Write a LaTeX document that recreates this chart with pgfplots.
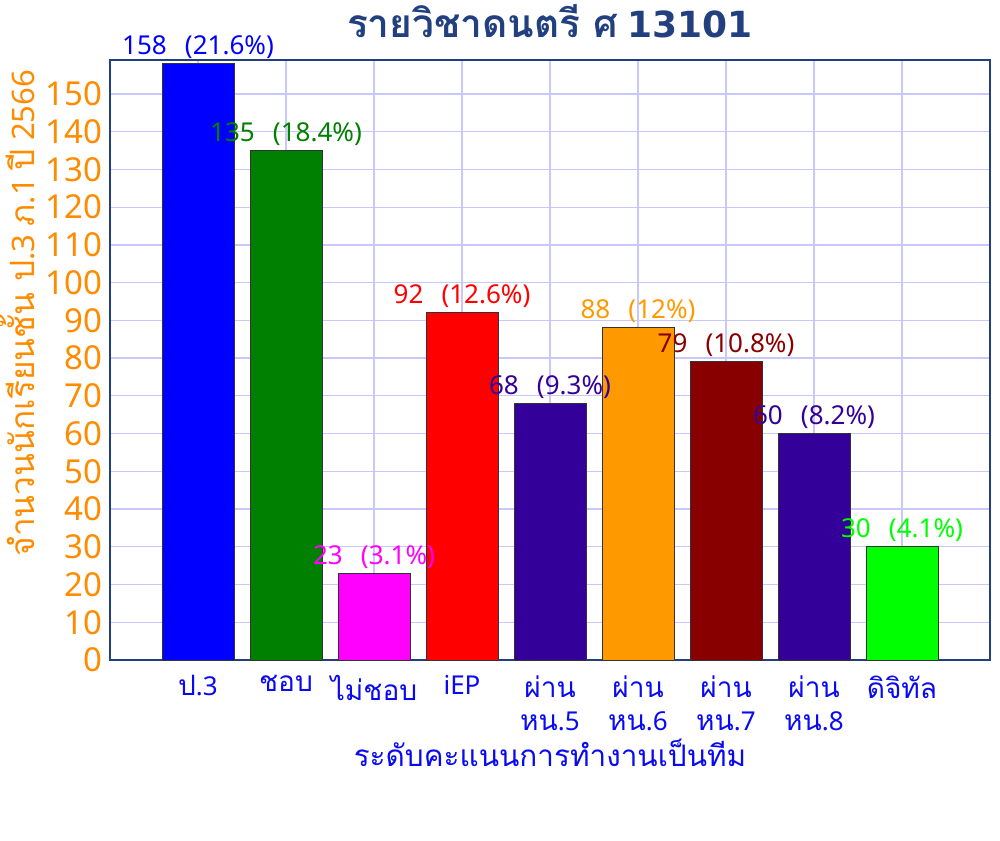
\documentclass[border=0pt]{standalone}
\usepackage{fontspec}
\usepackage{pgfplots}
\pgfplotsset{compat=1.18}
\setmainfont{Noto Sans}
\newfontfamily\tf[Script=Thai,Scale=1.08]{Loma}
\newfontfamily\djv{DejaVu Sans}
\definecolor{axisblue}{RGB}{34,64,128}
\definecolor{gridblue}{RGB}{200,200,255}
\definecolor{tickorange}{RGB}{255,140,0}
\definecolor{xblue}{RGB}{10,10,240}
\definecolor{cA}{RGB}{0,0,255}
\definecolor{cB}{RGB}{0,128,0}
\definecolor{cC}{RGB}{255,0,255}
\definecolor{cD}{RGB}{255,0,0}
\definecolor{cE}{RGB}{51,0,153}
\definecolor{cF}{RGB}{255,153,0}
\definecolor{cG}{RGB}{136,0,0}
\definecolor{cH}{RGB}{51,0,153}
\definecolor{cI}{RGB}{0,255,0}
\newcommand{\gap}{\hspace{0.7em}}
\begin{document}
\begin{tikzpicture}
\useasboundingbox (-110pt,-180pt) rectangle (890pt,660pt);
\begin{axis}[
  at={(0,0)}, anchor=south west,
  scale only axis, width=880pt, height=600pt,
  xmin=0, xmax=10, ymin=0, ymax=159,
  axis line style={draw=axisblue, line width=2pt},
  grid=major, grid style={draw=gridblue, line width=1.3pt},
  major tick length=0pt,
  /pgf/number format/assume math mode=true,
  xtick={1,2,3,4,5,6,7,8,9},
  xticklabels={{{\tf ป}.3},{\tf ชอบ},{\tf ไม่ชอบ},iEP,{{\tf ผ่าน}\\{\tf หน}.5},{{\tf ผ่าน}\\{\tf หน}.6},{{\tf ผ่าน}\\{\tf หน}.7},{{\tf ผ่าน}\\{\tf หน}.8},{\tf ดิจิทัล}},
  xticklabel style={align=center, text=xblue, font=\fontsize{26}{33}\selectfont, yshift=-12pt},
  ytick={0,10,...,150},
  yticklabel style={text=tickorange, font=\fontsize{33}{33}\selectfont, xshift=-4pt},
  ybar, bar width=72pt, bar shift=0pt,
  nodes near coords, point meta=explicit symbolic,
  every node near coord/.append style={font=\fontsize{26}{26}\selectfont, anchor=base, yshift=9pt},
  title={{\bfseries\tf รายวิชาดนตรี ศ} {\bfseries\djv 13101}},
  title style={at={(axis description cs:0.5,1)}, anchor=base, yshift=16pt, text=axisblue, font=\fontsize{36}{36}\selectfont},
  xlabel={\tf ระดับคะแนนการทำงานเป็นทีม},
  xlabel style={at={(axis description cs:0.5,-0.178)}, anchor=base, text=xblue, font=\fontsize{27.5}{28}\selectfont},
  ylabel={{\tf จำนวนนักเรียนชั้น ป}.3 {\tf ภ}.1 {\tf ปี} 2566},
  ylabel style={at={(axis description cs:-0.106,0.578)}, anchor=center, inner sep=0pt, text=tickorange, font=\fontsize{31}{31}\selectfont},
]
\addplot[fill=cA, draw=black!80, line width=1pt, every node near coord/.append style={text=cA}] coordinates {(1,158) [158\gap(21.6\%)]};
\addplot[fill=cB, draw=black!80, line width=1pt, every node near coord/.append style={text=cB}] coordinates {(2,135) [135\gap(18.4\%)]};
\addplot[fill=cC, draw=black!80, line width=1pt, every node near coord/.append style={text=cC}] coordinates {(3,23) [23\gap(3.1\%)]};
\addplot[fill=cD, draw=black!80, line width=1pt, every node near coord/.append style={text=cD}] coordinates {(4,92) [92\gap(12.6\%)]};
\addplot[fill=cE, draw=black!80, line width=1pt, every node near coord/.append style={text=cE}] coordinates {(5,68) [68\gap(9.3\%)]};
\addplot[fill=cF, draw=black!80, line width=1pt, every node near coord/.append style={text=cF}] coordinates {(6,88) [88\gap(12\%)]};
\addplot[fill=cG, draw=black!80, line width=1pt, every node near coord/.append style={text=cG}] coordinates {(7,79) [79\gap(10.8\%)]};
\addplot[fill=cH, draw=black!80, line width=1pt, every node near coord/.append style={text=cH}] coordinates {(8,60) [60\gap(8.2\%)]};
\addplot[fill=cI, draw=black!80, line width=1pt, every node near coord/.append style={text=cI}] coordinates {(9,30) [30\gap(4.1\%)]};
\end{axis}
\end{tikzpicture}
\end{document}
